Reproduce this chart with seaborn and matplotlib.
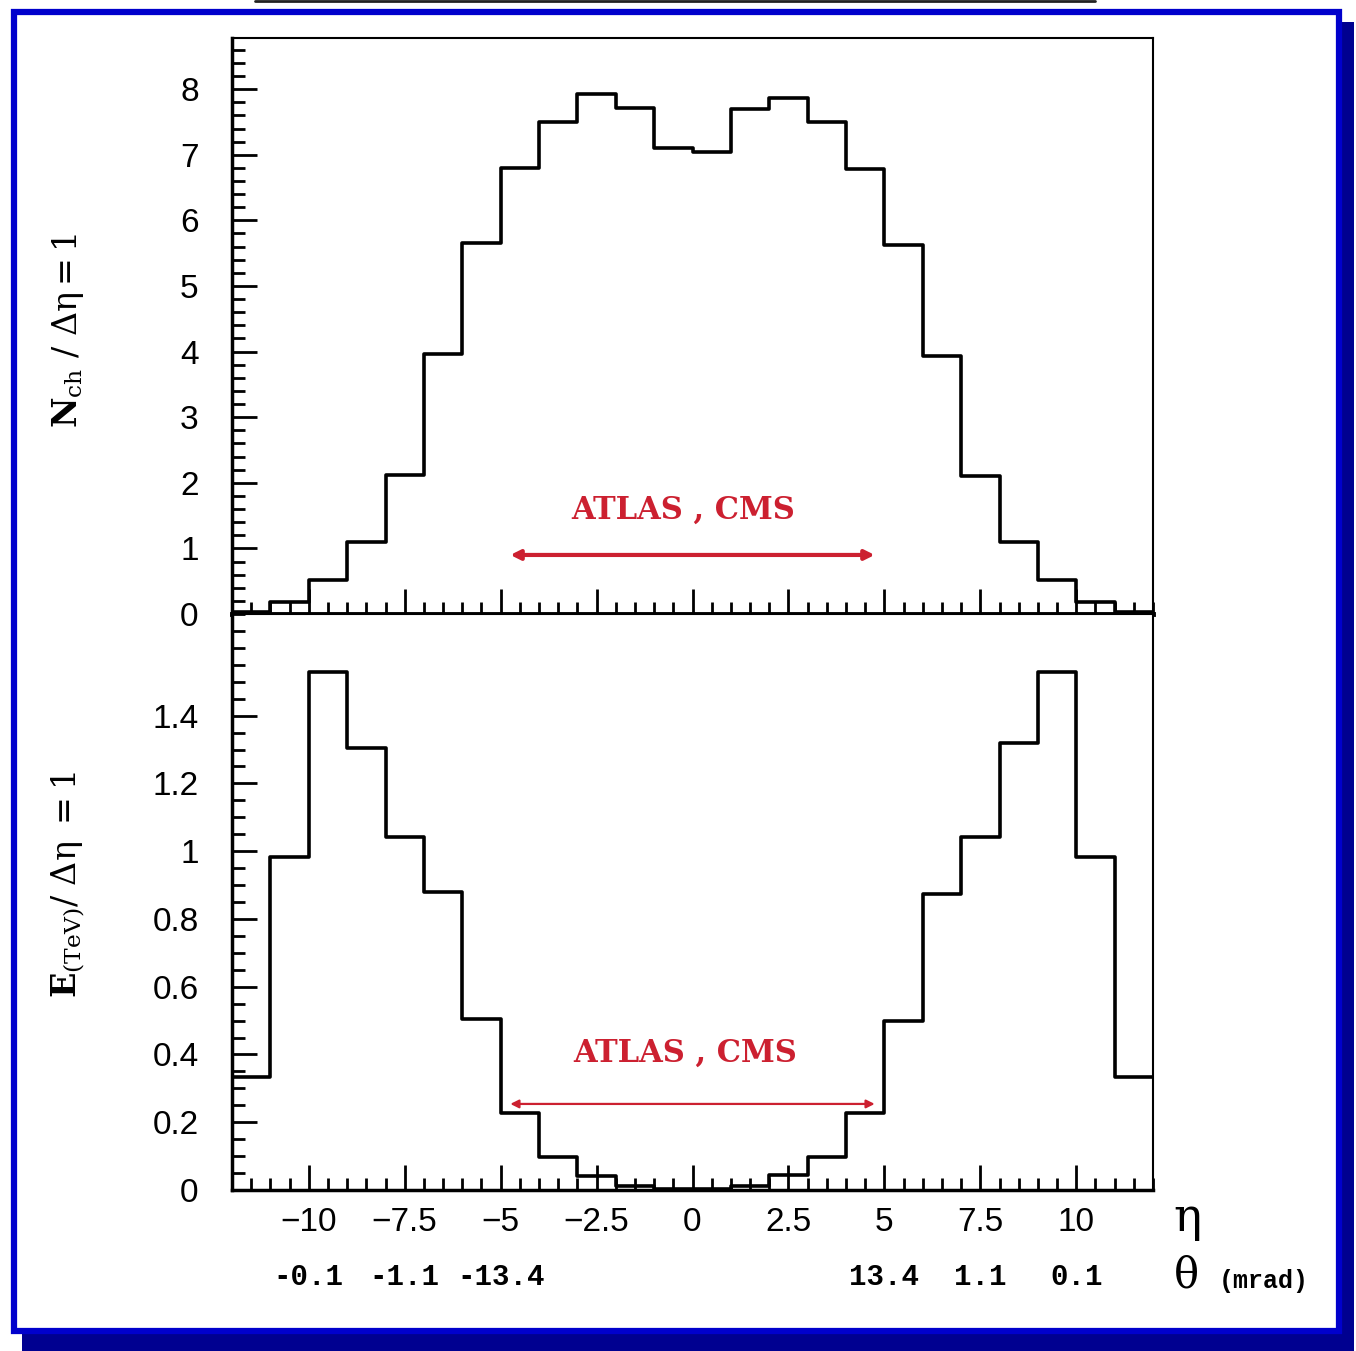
import numpy as np
import pandas as pd
import seaborn as sns
import matplotlib.pyplot as plt
from matplotlib.ticker import MultipleLocator, FixedLocator
from matplotlib.patches import Rectangle
from matplotlib.lines import Line2D

# bin edges in pseudorapidity
eta_edges = [-12, -11, -10, -9, -8, -7, -6, -5, -4, -3, -2, -1, 0,
             1, 2, 3, 4, 5, 6, 7, 8, 9, 10, 11, 12]
# charged multiplicity per unit eta
nch = [0.03, 0.18, 0.52, 1.1, 2.12, 3.96, 5.65, 6.8, 7.5, 7.93, 7.71, 7.1,
       7.04, 7.7, 7.87, 7.5, 6.78, 5.62, 3.93, 2.1, 1.1, 0.52, 0.18, 0.03]
# energy flow (TeV) per unit eta
energy = [0.334, 0.983, 1.53, 1.305, 1.043, 0.88, 0.505, 0.227, 0.097, 0.041, 0.012, 0.003,
          0.003, 0.012, 0.044, 0.097, 0.227, 0.5, 0.874, 1.043, 1.32, 1.53, 0.983, 0.334]

eta_ticks = [-10, -7.5, -5, -2.5, 0, 2.5, 5, 7.5, 10]
eta_ticklabels = ["\u221210", "\u22127.5", "\u22125", "\u22122.5", "0", "2.5", "5", "7.5", "10"]
theta_pos = [-10, -7.5, -5, 5, 7.5, 10]
theta_labels = ["-0.1", "-1.1", "-13.4", "13.4", "1.1", "0.1"]
acc_lo, acc_hi = -4.82, 4.82
acc_y_top, acc_y_bot = 0.9, 0.254

centers = np.array(eta_edges[:-1]) + 0.5
df = pd.DataFrame({"eta": centers, "nch": nch, "energy": energy})

sns.set_style("ticks")
plt.rcParams["font.family"] = ["Liberation Sans", "DejaVu Sans"]
plt.rcParams["mathtext.fontset"] = "dejavuserif"
plt.rcParams["axes.edgecolor"] = "black"
plt.rcParams["text.color"] = "black"
plt.rcParams["xtick.labelcolor"] = "black"
plt.rcParams["ytick.labelcolor"] = "black"

W, H = 1356, 1351
fig = plt.figure(figsize=(W / 100, H / 100), dpi=100)
fig.patch.set_facecolor("white")


def fx(px):
    return px / W


def fy(py):
    return 1 - py / H


ax1 = fig.add_axes([fx(232), fy(614), fx(1153) - fx(232), fy(38) - fy(614)])
ax2 = fig.add_axes([fx(232), fy(1190), fx(1153) - fx(232), fy(614) - fy(1190)])

red = "#cc2030"

sns.histplot(data=df, x="eta", weights="nch", bins=eta_edges, element="step",
             fill=False, color="black", linewidth=2.6, ax=ax1)
sns.histplot(data=df, x="eta", weights="energy", bins=eta_edges, element="step",
             fill=False, color="black", linewidth=2.6, ax=ax2)

ax1.set_ylim(0, 8.78)
ax2.set_ylim(0, 1.70)
for ax in (ax1, ax2):
    ax.set_xlim(-12, 12)
    ax.set_xlabel("")
    ax.set_ylabel("")
    ax.xaxis.set_major_locator(FixedLocator(eta_ticks))
    ax.xaxis.set_minor_locator(MultipleLocator(0.5))
    ax.tick_params(which="both", direction="in", top=False, right=False,
                   color="black", width=2)
    ax.tick_params(which="major", length=18, labelsize=24, labelcolor="black")
    ax.tick_params(which="minor", length=9)
    ax.tick_params(axis="y", pad=24)
    ax.tick_params(axis="x", pad=12)
    ax.spines["left"].set_linewidth(2.5)
    ax.spines["bottom"].set_linewidth(2.5)
    ax.spines["top"].set_linewidth(1.5)
    ax.spines["right"].set_linewidth(1.5)

ax1.spines["bottom"].set_linewidth(3.5)
ax1.yaxis.set_major_locator(MultipleLocator(1))
ax1.yaxis.set_minor_locator(MultipleLocator(0.2))
ax1.set_xticklabels([])

ax2.yaxis.set_major_locator(FixedLocator([0, 0.2, 0.4, 0.6, 0.8, 1.0, 1.2, 1.4]))
ax2.yaxis.set_minor_locator(MultipleLocator(0.05))
ax2.set_yticklabels(["0", "0.2", "0.4", "0.6", "0.8", "1", "1.2", "1.4"])
ax2.set_xticklabels(eta_ticklabels)

# acceptance arrows
ax1.annotate("", xy=(acc_hi, acc_y_top), xytext=(acc_lo, acc_y_top),
             arrowprops=dict(arrowstyle="<|-|>", color=red, lw=3, mutation_scale=14))
ax1.text(-0.25, 1.58, "ATLAS , CMS", color=red, fontsize=22, fontweight="bold",
         family="DejaVu Serif", ha="center", va="center")
ax2.annotate("", xy=(acc_hi, acc_y_bot), xytext=(acc_lo, acc_y_bot),
             arrowprops=dict(arrowstyle="<|-|>", color=red, lw=1.6, mutation_scale=12))
ax2.text(-0.2, 0.405, "ATLAS , CMS", color=red, fontsize=22, fontweight="bold",
         family="DejaVu Serif", ha="center", va="center")

# theta labels under the eta axis
for p, lab in zip(theta_pos, theta_labels):
    x_fig = fx(232) + (p + 12) / 24 * (fx(1153) - fx(232))
    fig.text(x_fig, fy(1277), lab, family="Liberation Mono", fontweight="bold",
             fontsize=21, ha="center", va="center")

fig.text(fx(1187), fy(1218), "\u03b7", family="DejaVu Serif", fontsize=34,
         ha="center", va="center")
fig.text(fx(1186), fy(1276), "\u03b8", family="DejaVu Serif", fontsize=30,
         ha="center", va="center")
fig.text(fx(1264), fy(1281), "(mrad)", family="Liberation Mono", fontweight="bold",
         fontsize=18, ha="center", va="center")

# y axis titles
fig.text(fx(68), fy(330), r"$\mathbf{N}_{\rm ch}\ /\ \mathrm{\Delta\eta} = 1$", fontsize=24,
         rotation=90, ha="center", va="center")
fig.text(fx(68), fy(885), r"$\mathbf{E}_{\rm (TeV)}/\ \mathrm{\Delta\eta}\ = 1$", fontsize=24,
         rotation=90, ha="center", va="center")

# blue frame with shadow
fig.add_artist(Rectangle((fx(22), fy(1351)), fx(1354) - fx(22), fy(1330) - fy(1351),
                         transform=fig.transFigure, color="#000090", lw=0))
fig.add_artist(Rectangle((fx(1337), fy(1351)), fx(1354) - fx(1337), fy(22) - fy(1351),
                         transform=fig.transFigure, color="#000090", lw=0))
fig.add_artist(Rectangle((fx(14), fy(1331)), fx(1339) - fx(14), fy(12) - fy(1331),
                         transform=fig.transFigure, fill=False, edgecolor="#0000cc", lw=4.5))
fig.add_artist(Line2D([fx(255), fx(1095)], [fy(1), fy(1)], transform=fig.transFigure,
                      color="#222222", lw=2))

fig.savefig("out.png", dpi=100)
